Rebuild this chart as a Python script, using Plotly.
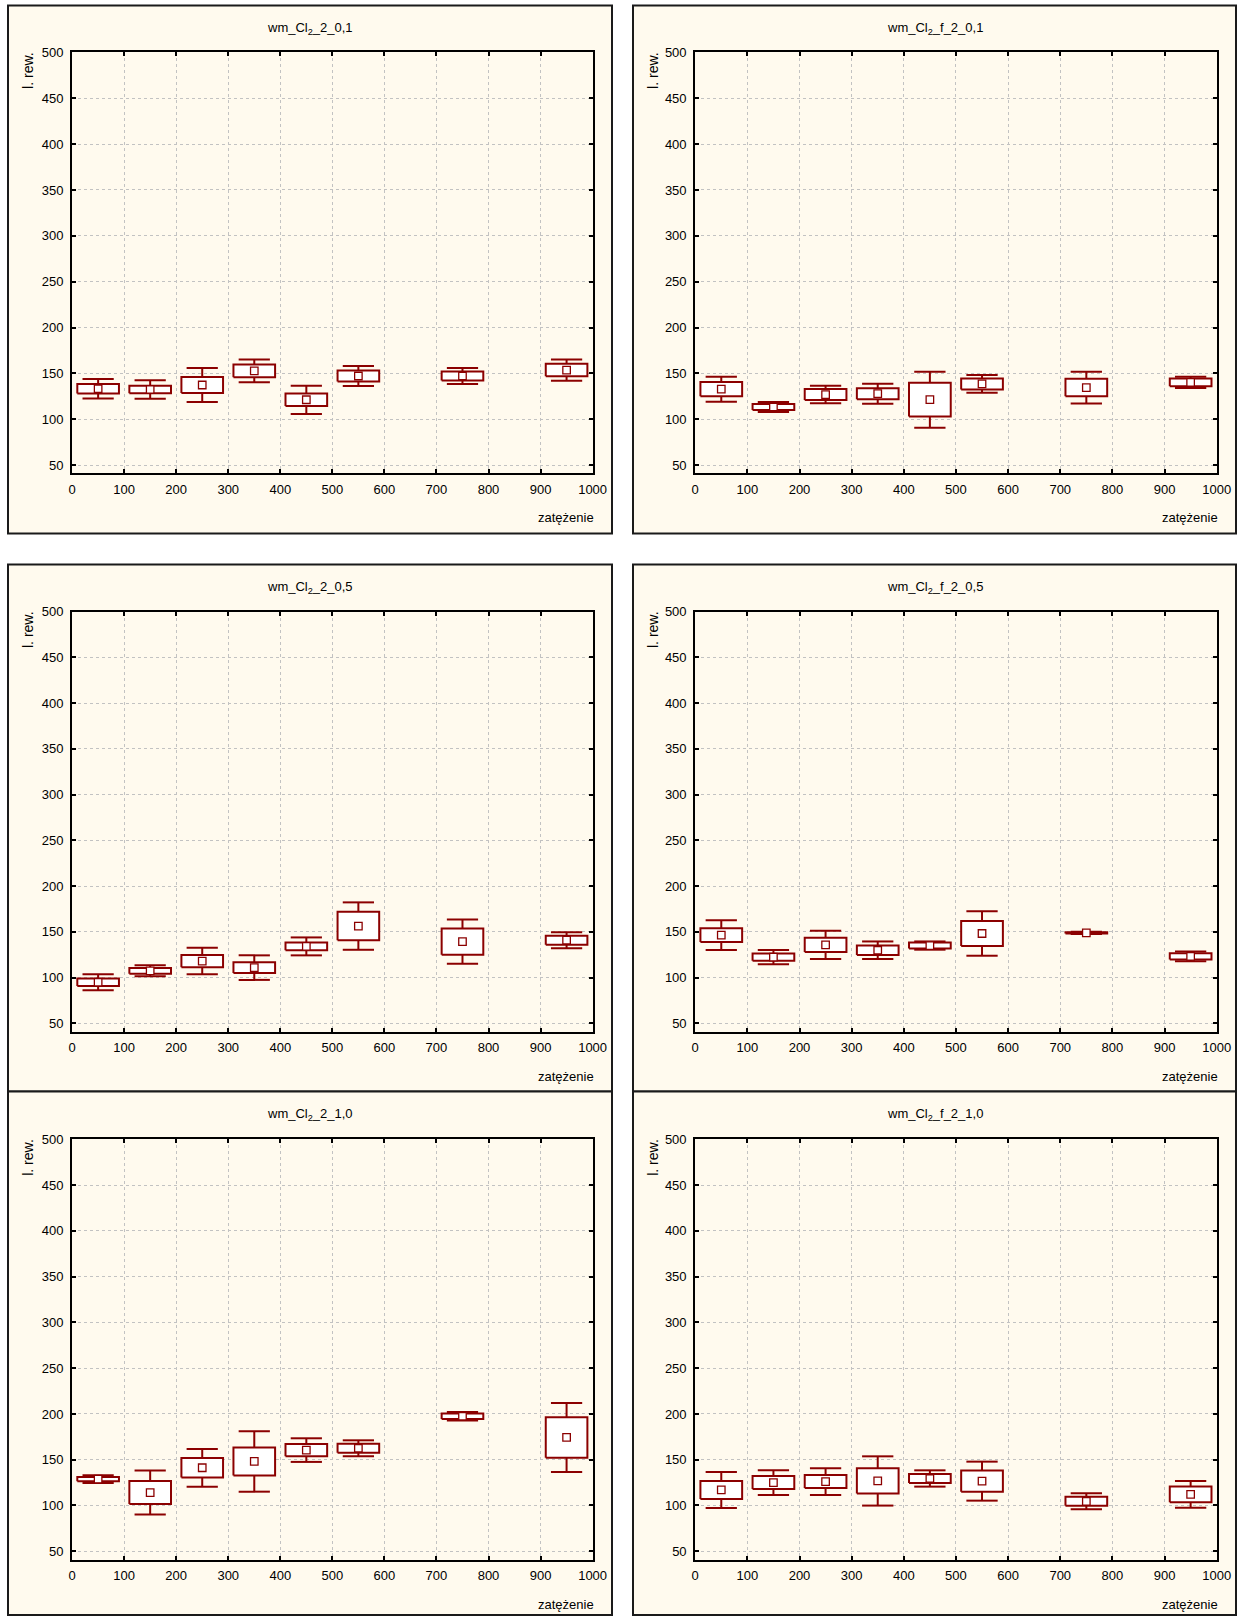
import plotly.graph_objects as go

W, H = 1244, 1616

# x categories (load levels)
loads = [50, 150, 250, 350, 450, 550, 750, 950]

# wm_Cl2_2_0,1
mean_a = [133.2, 132.4, 137.3, 152.7, 121.2, 147.1, 147.1, 153.6]
se_a = [5.1, 4.0, 8.7, 6.9, 6.9, 6.0, 4.9, 6.9]
sd_a = [10.7, 10.0, 18.5, 12.5, 15.4, 10.9, 8.7, 11.6]

# wm_Cl2_f_2_0,1
mean_b = [132.7, 113.3, 126.9, 127.8, 121.3, 138.5, 134.5, 140.2]
se_b = [7.8, 3.3, 6.0, 6.0, 18.4, 6.0, 9.6, 4.2]
sd_b = [13.6, 5.5, 9.6, 10.9, 30.5, 9.6, 17.3, 6.2]

# wm_Cl2_2_0,5
mean_c = [94.9, 107.4, 118.1, 110.9, 134.1, 156.3, 139.3, 140.9]
se_c = [4.2, 3.1, 6.7, 5.8, 4.2, 15.6, 14.3, 4.9]
sd_c = [8.7, 6.0, 14.5, 13.4, 9.8, 25.9, 24.1, 8.7]

# wm_Cl2_f_2_0,5
mean_d = [146.4, 122.3, 135.7, 129.9, 135.0, 148.2, 148.9, 123.2]
se_d = [7.6, 4.0, 7.8, 5.1, 3.3, 13.6, 0.6, 3.3]
sd_d = [16.3, 7.8, 15.4, 9.6, 4.5, 24.3, 1.2, 5.4]

# wm_Cl2_2_1,0
mean_e = [128.8, 114.1, 141.2, 148.1, 160.5, 162.5, 197.5, 174.3]
se_e = [2.2, 12.6, 10.6, 15.3, 6.7, 4.9, 3.1, 22.2]
sd_e = [4.2, 24.0, 20.6, 33.0, 12.9, 8.7, 4.7, 37.7]

# wm_Cl2_f_2_1,0
mean_f = [117.0, 125.0, 126.1, 126.8, 129.5, 126.6, 104.6, 112.1]
se_f = [9.8, 7.1, 7.1, 13.8, 4.9, 11.7, 4.9, 8.7]
sd_f = [19.7, 13.5, 14.6, 26.9, 8.9, 21.3, 8.7, 14.7]

titles = [
    "wm_Cl<sub>2</sub>_2_0,1", "wm_Cl<sub>2</sub>_f_2_0,1",
    "wm_Cl<sub>2</sub>_2_0,5", "wm_Cl<sub>2</sub>_f_2_0,5",
    "wm_Cl<sub>2</sub>_2_1,0", "wm_Cl<sub>2</sub>_f_2_1,0",
]
x_title = "zatężenie"
y_title = "l. rew."
x_ticks = [0, 100, 200, 300, 400, 500, 600, 700, 800, 900, 1000]
y_ticks = [50, 100, 150, 200, 250, 300, 350, 400, 450, 500]

series = [
    (mean_a, se_a, sd_a), (mean_b, se_b, sd_b),
    (mean_c, se_c, sd_c), (mean_d, se_d, sd_d),
    (mean_e, se_e, sd_e), (mean_f, se_f, sd_f),
]

RED = "#8b0000"
FONT = "Liberation Sans, Arial, sans-serif"
BOX_HALF = 40   # half width of the SE box (x units)
CAP_HALF = 30   # half width of the SD whisker caps


def px_x(v):
    return v / W


def px_y(v):
    return 1 - v / H


# pixel geometry of the six panels
col_frame = [(8, 612), (633, 1236)]
row_frame = [(5.5, 533.5), (564.5, 1091.5), (1091.5, 1615)]
col_plot = [(72.1, 592.6), (695.2, 1216.7)]
row_plot = [(52.4, 473.3), (611.5, 1031.6), (1139.3, 1559.5)]

fig = go.Figure()
shapes = []
annotations = []

for i, (means, ses, sds) in enumerate(series):
    r, c = divmod(i, 2)
    n = i + 1
    xa = "x" if n == 1 else f"x{n}"
    ya = "y" if n == 1 else f"y{n}"

    # whiskers: mean ± SD with caps
    wx, wy = [], []
    for xv, m, se, sd in zip(loads, means, ses, sds):
        wx += [xv, xv, None, xv - CAP_HALF, xv + CAP_HALF, None,
               xv, xv, None, xv - CAP_HALF, xv + CAP_HALF, None]
        wy += [m + se, m + sd, None, m + sd, m + sd, None,
               m - se, m - sd, None, m - sd, m - sd, None]
    fig.add_trace(go.Scatter(x=wx, y=wy, mode="lines", xaxis=xa, yaxis=ya,
                             line=dict(color=RED, width=2),
                             hoverinfo="skip", showlegend=False))

    # boxes: mean ± SE
    bx, by = [], []
    for xv, m, se in zip(loads, means, ses):
        bx += [xv - BOX_HALF, xv + BOX_HALF, xv + BOX_HALF, xv - BOX_HALF, xv - BOX_HALF, None]
        by += [m - se, m - se, m + se, m + se, m - se, None]
    fig.add_trace(go.Scatter(x=bx, y=by, mode="lines", fill="toself",
                             fillcolor="white", xaxis=xa, yaxis=ya,
                             line=dict(color=RED, width=2),
                             hoverinfo="skip", showlegend=False))

    # mean markers
    fig.add_trace(go.Scatter(x=loads, y=means, mode="markers", xaxis=xa, yaxis=ya,
                             marker=dict(symbol="square", size=7.5, color="white",
                                         line=dict(color=RED, width=1.3)),
                             showlegend=False))

    x0, x1 = col_plot[c]
    y0, y1 = row_plot[r]
    axis_common = dict(
        showline=True, linecolor="black", linewidth=2, mirror="ticks",
        ticks="inside", ticklen=4, tickwidth=2, tickcolor="black",
        showgrid=True, gridcolor="#c2c2c2", gridwidth=1, griddash="dot",
        zeroline=False, automargin=False,
        tickfont=dict(family=FONT, size=13, color="black"),
    )
    fig.update_layout({
        ("xaxis" if n == 1 else f"xaxis{n}"): dict(
            domain=[px_x(x0), px_x(x1)], anchor=ya, range=[0, 1000],
            tickvals=x_ticks, ticktext=[str(t) for t in x_ticks],
            ticklabelstandoff=3, **axis_common),
        ("yaxis" if n == 1 else f"yaxis{n}"): dict(
            domain=[px_y(y1), px_y(y0)], anchor=xa, range=[41, 500],
            tickvals=y_ticks, ticktext=[str(t) for t in y_ticks],
            ticklabelstandoff=4, **axis_common),
    })

    fx0, fx1 = col_frame[c]
    fy0, fy1 = row_frame[r]
    shapes.append(dict(type="rect", xref="paper", yref="paper", layer="below",
                       x0=px_x(fx0), x1=px_x(fx1), y0=px_y(fy1), y1=px_y(fy0),
                       fillcolor="#fffaee", line=dict(color="#1a1a1a", width=2)))

    annotations.append(dict(xref="paper", yref="paper", x=px_x((fx0 + fx1) / 2),
                            y=px_y(fy0 + 23), text=titles[i], showarrow=False,
                            xanchor="center", yanchor="middle",
                            font=dict(family=FONT, size=13, color="black")))
    annotations.append(dict(xref="paper", yref="paper", x=px_x(fx0 + 20),
                            y=px_y(y0 - 2), text=y_title, textangle=-90,
                            showarrow=False, xanchor="center", yanchor="top",
                            font=dict(family=FONT, size=14, color="black")))
    annotations.append(dict(xref="paper", yref="paper", x=px_x(x1 + 3),
                            y=px_y(y1 + 44.5), text=x_title, showarrow=False,
                            xanchor="right", yanchor="middle",
                            font=dict(family=FONT, size=13, color="black")))

fig.update_layout(
    width=W, height=H,
    margin=dict(l=0, r=0, t=0, b=0, pad=0, autoexpand=False),
    paper_bgcolor="white", plot_bgcolor="white",
    shapes=shapes, annotations=annotations, showlegend=False,
)

fig.write_html("out.html")
